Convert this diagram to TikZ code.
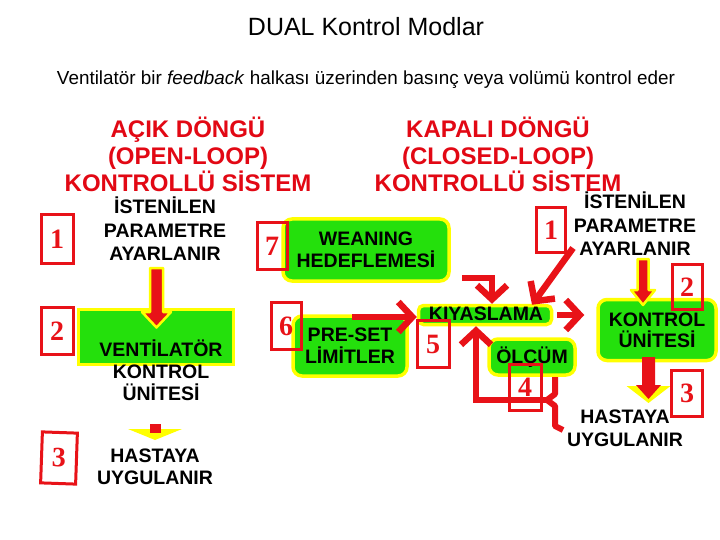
\documentclass[tikz,border=0pt]{standalone}
\usepackage{graphicx}
\usepackage{fontspec}
\setmainfont{Liberation Sans}
\newfontfamily\numf{Liberation Serif}
\usetikzlibrary{arrows.meta,calc}
\definecolor{cred}{RGB}{232,18,24}
\definecolor{hred}{RGB}{226,8,20}
\definecolor{cgreen}{RGB}{36,224,12}
\definecolor{cyel}{RGB}{255,255,0}
\tikzset{
  lbl/.style={font=\fontsize{19.5}{23.5}\selectfont\bfseries, align=center, inner sep=0pt, text=black},
  head/.style={font=\fontsize{24}{27}\selectfont\bfseries, align=center, inner sep=0pt, text=hred},
  numbox/.style={draw=cred, line width=3pt, inner sep=0pt, text=cred, font=\numf\bfseries\fontsize{28}{28}\selectfont},
  gbox/.style={fill=cgreen, draw=cyel, line width=3.5pt, rounded corners=9pt, inner sep=0pt, align=center, font=\fontsize{19.5}{22}\selectfont\bfseries},
  rarr/.style={draw=cred, line width=6.5pt, -{Straight Barb[length=14pt, width=30pt]}},
  rline/.style={draw=cred, line width=6pt, line join=round},
  blockarr/.style={fill=cred, draw=cyel, line width=2.5pt, line join=round}
}
\begin{document}
\begin{tikzpicture}[x=1pt,y=-1pt]
\useasboundingbox (0,0) rectangle (720,540);
\fill[white] (0,0) rectangle (720,540);

% titles
\node[inner sep=0pt] (title) at (366,27) {\resizebox{236pt}{!}{DUAL Kontrol Modlar}};
\node[inner sep=0pt] (sub) at (366,80) {\resizebox{618pt}{!}{Ventilatör bir \textit{feedback} halkası üzerinden basınç veya volümü kontrol eder}};

\node[head] (hL) at (188,154) {AÇIK DÖNGÜ\\(OPEN-LOOP)\\KONTROLLÜ SİSTEM};
\node[head] (hR) at (498,154) {KAPALI DÖNGÜ\\(CLOSED-LOOP)\\KONTROLLÜ SİSTEM};

% ---------- open loop ----------
\node[lbl] (istL) at (165,229) {İSTENİLEN\\PARAMETRE\\AYARLANIR};
\node[draw=cyel, fill=cgreen, line width=3pt, minimum width=155pt, minimum height=55pt] (vent) at (156,337) {};
\node[lbl, font=\fontsize{19.5}{22}\selectfont\bfseries] (ventT) at (161,370) {VENTİLATÖR\\KONTROL\\ÜNİTESİ};
\coordinate (a1) at (156.5,268);
\filldraw[blockarr] (a1) ++(-6.5,0) -- ++(13,0) -- ++(0,44) -- ++(8,0) -- ++(-14.5,15.5) -- ++(-14.5,-15.5) -- ++(8,0) -- cycle;
\coordinate (a3) at (155,424);
\fill[cyel] (a3) ++(-27,5) -- ++(54,0) -- ++(-27,11) -- cycle;
\fill[cred] (a3) ++(-5.5,0) rectangle ++(11,9);
\node[lbl, font=\fontsize{19.5}{21.5}\selectfont\bfseries] (hasL) at (155,467) {HASTAYA\\UYGULANIR};

% ---------- closed loop ----------
\node[gbox, minimum width=166pt, minimum height=62pt] (wean) at (366,250) {WEANING\\HEDEFLEMESİ};
\node[gbox, minimum width=114pt, minimum height=60pt] (pre) at (350,346) {PRE-SET\\LİMİTLER};
\node[gbox, rounded corners=5pt, minimum width=133pt, minimum height=19pt, text height=14pt] (kiy) at (485,315) {};
\node[lbl] (kiyT) at (486,314) {KIYASLAMA};
\node[gbox, minimum width=86pt, minimum height=36pt] (olc) at (532,357) {ÖLÇÜM};
\node[gbox, minimum width=118pt, minimum height=61pt, font=\fontsize{19.5}{21}\selectfont\bfseries] (kon) at (657,330) {KONTROL\\ÜNİTESİ};

\node[lbl] (istR) at (635,224) {İSTENİLEN\\PARAMETRE\\AYARLANIR};
\node[lbl, font=\fontsize{19.5}{23}\selectfont\bfseries] (hasR) at (625,428) {HASTAYA\\UYGULANIR};

% arrows
\coordinate (ps) at (352,317);
\draw[rarr] (ps) -- (ps -| kiy.west);
\coordinate (wc) at (462,278);
\draw[rarr] (wc) -| ([xshift=7pt]kiy.north);
\coordinate (r1) at (573,248);
\draw[rarr] (r1) -- ([xshift=47pt,yshift=-1pt]kiy.north);
\draw[rarr] ([xshift=4pt]kiy.east) -- ([xshift=31pt]kiy.east);
\coordinate (br) at (547,400);
\draw[rline] (555,377) -- (555,394) -- (br) -- (555,406) -- (555,426) -- (563,430);
\draw[rarr] (br) -| ([xshift=-9pt]kiy.south);

% right block arrows
\coordinate (a2) at (643,259);
\filldraw[blockarr] (a2) ++(-5.5,0) -- ++(11,0) -- ++(0,31) -- ++(6.5,0) -- ++(-12,15) -- ++(-12,-15) -- ++(6.5,0) -- cycle;
\coordinate (a4) at (648.5,357);
\fill[cyel] (a4) ++(-22,29) -- ++(44,0) -- ++(-22,17) -- cycle;
\fill[cred] (a4) ++(-6.5,0) -- ++(13,0) -- ++(0,28) -- ++(6,0) -- ++(-12.5,14) -- ++(-12.5,-14) -- ++(6,0) -- cycle;

% number boxes
\node[numbox, minimum width=32pt, minimum height=48pt] (n1L) at (57,239) {1};
\node[numbox, minimum width=32pt, minimum height=47pt] (n2L) at (57,331) {2};
\node[numbox, minimum width=35pt, minimum height=51pt, rotate=-2] (n3L) at (59,458) {3};
\node[numbox, minimum width=30pt, minimum height=47pt] (n7) at (272,246) {7};
\node[numbox, minimum width=30pt, minimum height=47pt] (n6) at (286,326) {6};
\node[numbox, minimum width=32pt, minimum height=47pt] (n5) at (433,344) {5};
\node[numbox, minimum width=32pt, minimum height=46pt] (n4) at (525,387) {4};
\node[numbox, minimum width=29pt, minimum height=44pt] (n1R) at (551,230) {1};
\node[numbox, minimum width=30pt, minimum height=45pt] (n2R) at (687,287) {2};
\node[numbox, minimum width=31pt, minimum height=46pt] (n3R) at (687,393) {3};
\end{tikzpicture}
\end{document}
